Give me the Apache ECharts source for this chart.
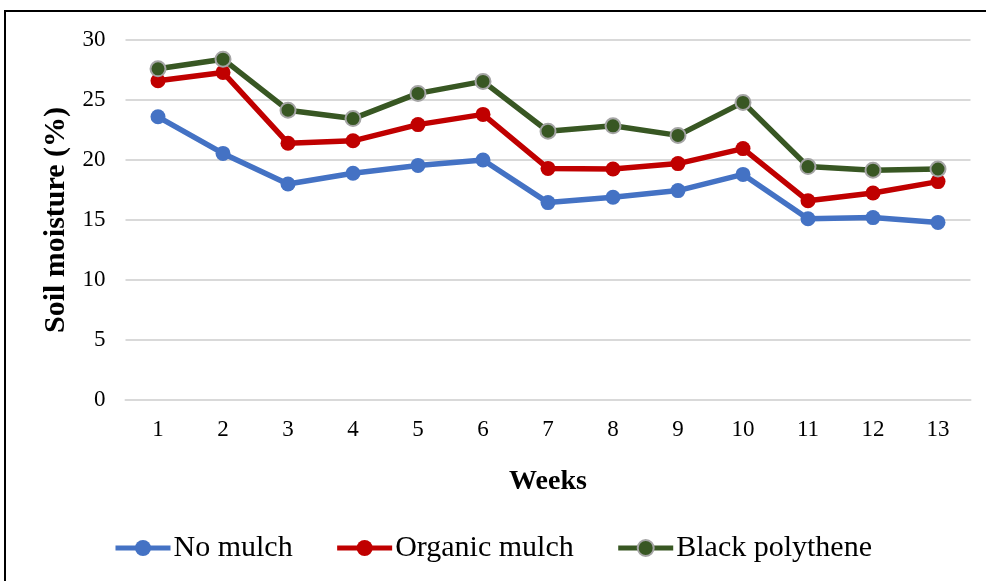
<!DOCTYPE html>
<html>
<head>
<meta charset="utf-8">
<script src="https://cdn.jsdelivr.net/npm/echarts@6/dist/echarts.min.js"></script>
<style>
html,body{margin:0;padding:0;background:#fff;}
#chart{width:986px;height:581px;}
</style>
</head>
<body>
<div id="chart"></div>
<script>
const weeks = ['1','2','3','4','5','6','7','8','9','10','11','12','13'];
const noMulch = [23.6, 20.55, 18.0, 18.9, 19.55, 20.0, 16.45, 16.9, 17.45, 18.8, 15.1, 15.2, 14.8];
const organicMulch = [26.6, 27.3, 21.4, 21.6, 22.95, 23.8, 19.3, 19.25, 19.7, 20.95, 16.6, 17.25, 18.2];
const blackPolythene = [27.6, 28.4, 24.15, 23.45, 25.55, 26.55, 22.4, 22.85, 22.05, 24.8, 19.45, 19.15, 19.25];
const seriesNames = ['No mulch', 'Organic mulch', 'Black polythene'];

const font = "'Liberation Serif', 'Times New Roman', serif";
const chart = echarts.init(document.getElementById('chart'), null, {renderer: 'canvas'});

function mk(name, data, color, border) {
  return {
    name: name,
    type: 'line',
    data: data,
    symbol: 'circle',
    symbolSize: 15,
    showSymbol: true,
    lineStyle: {color: color, width: 5.5},
    itemStyle: {color: color, borderColor: border || color, borderWidth: border ? 2 : 0},
    emphasis: {disabled: true},
    animation: false
  };
}

chart.setOption({
  backgroundColor: '#ffffff',
  animation: false,
  textStyle: {fontFamily: font},
  grid: {left: 125.5, right: 15.5, top: 40, bottom: 181, containLabel: false},
  legend: {
    data: seriesNames,
    left: 108,
    top: 528,
    itemWidth: 55,
    itemHeight: 20,
    itemGap: 42,
    lineStyle: {width: 5},
    textStyle: {fontFamily: font, fontSize: 30, color: '#000', padding: [0, 0, 0, -2]}
  },
  xAxis: {
    type: 'category',
    data: weeks,
    boundaryGap: true,
    name: 'Weeks',
    nameLocation: 'middle',
    nameGap: 68,
    nameTextStyle: {fontFamily: font, fontSize: 28, fontWeight: 'bold', color: '#000', verticalAlign: 'top'},
    axisLine: {show: true, lineStyle: {color: '#d9d9d9', width: 2}},
    axisTick: {show: false},
    axisLabel: {fontFamily: font, fontSize: 23, color: '#000', margin: 18}
  },
  yAxis: {
    type: 'value',
    min: 0,
    max: 30,
    interval: 5,
    name: 'Soil moisture (%)',
    nameLocation: 'middle',
    nameGap: 50,
    nameTextStyle: {fontFamily: font, fontSize: 30, fontWeight: 'bold', color: '#000'},
    axisLine: {show: false},
    axisTick: {show: false},
    axisLabel: {fontFamily: font, fontSize: 23, color: '#000', margin: 20},
    splitLine: {show: true, lineStyle: {color: '#d9d9d9', width: 2}}
  },
  series: [
    mk(seriesNames[0], noMulch, '#4472C4'),
    mk(seriesNames[1], organicMulch, '#C00000'),
    mk(seriesNames[2], blackPolythene, '#385723', '#a5a5a5')
  ],
  graphic: [
    {type: 'line', shape: {x1: 4, y1: 11, x2: 986, y2: 11}, style: {stroke: '#000', lineWidth: 2}, silent: true},
    {type: 'line', shape: {x1: 5, y1: 10, x2: 5, y2: 581}, style: {stroke: '#000', lineWidth: 2}, silent: true}
  ]
});
</script>
</body>
</html>
